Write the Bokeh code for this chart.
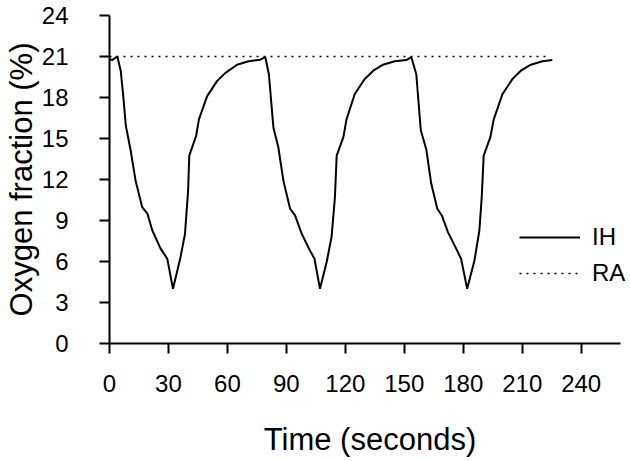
from bokeh.plotting import figure
from bokeh.models import Legend, LegendItem, FixedTicker, Range1d
from bokeh.embed import file_html
from bokeh.resources import INLINE

# IH trace (time in seconds, oxygen fraction in %)
ih_time = [0, 1.5, 4.0, 5.7, 6.9, 8.3, 10.8, 13.3, 16.6, 19.3, 21.8, 26.0, 29.4, 32.3,
           36.1, 38.4, 40.0, 40.6, 44.1, 45.5, 49.7, 54.7, 59.0, 64.9, 70.8, 76.7, 79.3,
           81.1, 83.4, 85.9, 88.5, 91.9, 94.4, 97.8, 102.0, 104.3, 107.1,
           110.5, 113.0, 114.7, 115.6, 119.0, 120.6, 124.8, 129.9, 134.2, 139.2, 145.1, 151.0, 153.6,
           156.1, 158.4, 161.2, 163.7, 166.8, 169.1, 172.2, 176.4, 178.9, 182.0,
           185.7, 188.2, 189.4, 190.4, 193.8, 195.5, 200.0, 205.1, 209.3, 214.4, 220.3, 225.3]
ih_o2 = [20.8, 20.75, 21.0, 19.96, 18.26, 15.95, 14.1, 11.9, 9.98, 9.5, 8.27, 6.94, 6.2, 4.0,
         6.3, 8.0, 11.2, 13.75, 15.2, 16.4, 18.1, 19.2, 19.8, 20.4, 20.65, 20.77, 20.95,
         19.7, 15.8, 14.36, 11.9, 9.86, 9.37, 8.03, 6.8, 6.2, 4.0,
         5.96, 7.8, 10.7, 13.75, 15.1, 16.4, 18.26, 19.36, 19.96, 20.4, 20.65, 20.74, 20.95,
         19.7, 15.6, 14.2, 11.7, 9.86, 9.37, 8.15, 6.94, 6.2, 4.0,
         6.08, 8.27, 10.7, 13.75, 15.1, 16.4, 18.26, 19.36, 19.96, 20.4, 20.65, 20.74]

# RA reference level
ra_time = [0, 224]
ra_o2 = [21, 21]

x_ticks = [0, 30, 60, 90, 120, 150, 180, 210, 240]
y_ticks = [0, 3, 6, 9, 12, 15, 18, 21, 24]

FONT = "Liberation Sans"

p = figure(width=630, height=461, output_backend="svg", toolbar_location=None,
           x_range=Range1d(0, 265.1), y_range=Range1d(0, 24),
           min_border_left=107, min_border_right=0, min_border_top=15, min_border_bottom=118)
p.outline_line_color = None
p.xgrid.visible = False
p.ygrid.visible = False
p.background_fill_color = "white"
p.border_fill_color = "white"

r_ih = p.line(ih_time, ih_o2, line_color="black", line_width=2)
r_ra = p.line(ra_time, ra_o2, line_color="black", line_width=1.5, line_dash="2 5")

for ax in (p.xaxis[0], p.yaxis[0]):
    ax.axis_line_width = 2
    ax.axis_line_color = "black"
    ax.major_tick_line_width = 2
    ax.major_tick_line_color = "black"
    ax.major_tick_out = 10
    ax.major_tick_in = 0
    ax.minor_tick_line_color = None
    ax.major_label_text_font = FONT
    ax.major_label_text_font_size = "24px"
    ax.major_label_text_color = "black"
    ax.axis_label_text_font = FONT
    ax.axis_label_text_font_size = "31px"
    ax.axis_label_text_font_style = "normal"
    ax.axis_label_text_color = "black"

p.xaxis[0].ticker = FixedTicker(ticks=x_ticks)
p.yaxis[0].ticker = FixedTicker(ticks=y_ticks)
p.xaxis[0].bounds = (0, 260)
p.xaxis[0].axis_label = "Time (seconds)"
p.yaxis[0].axis_label = "Oxygen fraction (%)"
p.xaxis[0].major_label_standoff = 21
p.yaxis[0].major_label_standoff = 31
p.xaxis[0].axis_label_standoff = 27
p.yaxis[0].axis_label_standoff = 0

legend = Legend(items=[LegendItem(label="IH", renderers=[r_ih]),
                       LegendItem(label="RA", renderers=[r_ra])],
                location=(410, 56), orientation="vertical",
                glyph_width=61, glyph_height=26, label_height=26, spacing=8,
                label_standoff=12, padding=0, margin=0,
                border_line_color=None, background_fill_alpha=0,
                label_text_font=FONT, label_text_font_size="24px", label_text_color="black")
p.add_layout(legend, "center")

open("out.html", "w").write(file_html(p, INLINE))
